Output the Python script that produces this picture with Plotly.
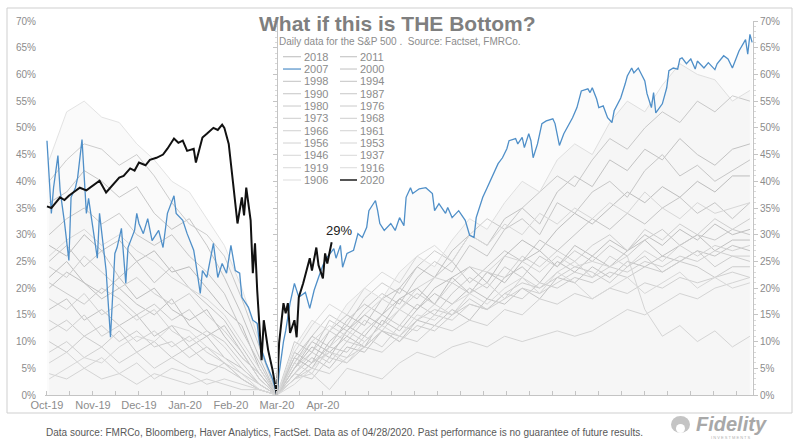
import plotly.graph_objects as go

# ---------------- data ----------------
# trading days relative to each bear-market bottom (day 0 = bottom)
GRAY_DAYS = list(range(-104, 217, 8))

r_2018 = [28,26,30,27,29,25,27,23,24,20,16,13,5,0, 5,9,7,12,15,13,18,20,17,22,24,21,26,29,27,31,34,32,35,38,36,39,37,40,38,41,41]
r_2011 = [22,25,21,19,22,18,20,16,14,16,11,7,4,0, 7,5,10,13,11,15,18,16,20,22,19,23,21,25,27,24,28,26,29,27,30,28,31,29,32,30,31]
r_2000 = [20,23,21,18,20,17,15,18,13,11,13,8,3,0, 5,10,8,11,9,14,12,16,19,17,20,18,22,24,21,25,23,26,24,27,29,26,28,30,27,29,29]
r_1998 = [36,38,42,40,37,39,34,31,33,28,22,15,7,0, 8,6,12,15,13,18,20,24,22,27,30,28,33,35,32,38,41,39,44,42,46,44,48,45,43,46,47]
r_1994 = [16,18,14,16,13,15,11,13,9,11,7,5,2,0, 4,7,5,9,8,12,10,14,13,16,14,18,17,20,18,22,21,24,22,25,24,26,25,27,26,28,27]
r_1990 = [25,28,24,27,22,25,21,24,20,17,14,9,4,0, 6,11,9,14,17,15,20,18,22,25,21,24,27,25,29,27,30,33,31,34,32,35,37,34,36,33,36]
r_1987 = [30,33,35,32,34,30,28,30,26,23,19,12,6,0, 10,8,14,12,16,19,17,22,25,23,28,26,31,33,30,36,34,38,40,37,42,45,41,43,40,42,44]
r_1980 = [40,44,47,46,43,45,41,36,32,30,26,18,9,0, 7,11,15,13,18,21,19,24,27,25,30,33,31,35,38,41,39,44,48,46,50,53,51,55,53,56,55]
r_1976 = [21,19,17,20,18,15,17,14,16,12,10,6,2,0, 3,6,9,8,12,15,13,17,15,19,22,20,24,22,26,24,27,25,28,26,29,31,28,30,29,31,30]
r_1973 = [10,8,11,9,12,8,10,7,9,6,5,3,1,0, 4,3,7,6,9,12,10,13,12,15,17,16,19,18,21,20,22,21,23,22,24,23,25,24,22,24,24]
r_1968 = [12,14,11,13,10,12,9,10,7,9,6,3,1,0, 5,8,6,10,9,12,11,14,16,15,18,16,19,21,20,22,24,23,21,24,26,23,25,27,24,26,25]
r_1966 = [24,22,26,23,20,22,19,17,19,15,12,8,3,0, 4,8,12,10,14,12,16,19,17,21,19,23,22,26,24,27,25,28,30,27,31,29,32,30,33,31,33]
r_1961 = [14,12,15,11,13,10,12,9,11,8,6,4,2,0, 3,6,8,7,11,9,13,12,15,14,17,16,18,20,19,21,23,22,24,23,25,24,26,25,27,26,26]
r_1956 = [8,10,7,9,6,8,5,7,5,4,6,3,1,0, 3,5,4,7,9,8,11,10,13,12,14,13,16,15,18,17,19,18,20,19,21,20,22,21,22,23,22]
r_1953 = [18,16,19,15,17,14,16,12,10,12,9,5,2,0, 6,4,9,12,10,13,16,14,17,15,19,21,18,22,20,23,25,22,26,24,27,25,28,26,28,27,28]
r_1946 = [4,3,5,3,4,2,4,3,2,3,2,1,1,0, 3,4,1,5,4,3,6,8,7,9,10,9,11,10,11,12,11,12,14,16,15,17,19,18,20,21,22]
r_1937 = [6,8,5,7,4,6,3,5,4,2,3,2,1,0, 6,10,13,11,15,18,16,20,22,21,24,23,26,25,23,26,24,25,24,26,16,11,13,10,12,9,11]
r_1919 = [26,29,31,28,30,27,25,22,20,18,15,10,5,0, 8,13,17,15,20,23,21,26,28,25,30,28,32,30,34,32,35,33,36,34,38,35,33,36,34,35,36]
r_1916 = [3,5,7,6,9,11,10,13,12,9,7,4,1,0, 2,5,8,6,10,13,11,15,14,17,19,17,20,22,19,23,21,18,20,22,19,21,23,20,22,20,21]
r_1906 = [44,53,55,52,51,47,44,40,38,33,28,20,10,0, 9,14,12,17,20,18,23,26,24,29,33,31,36,40,38,44,47,45,51,55,53,58,62,60,59,55,57]

days_2007 = [-105,-104,-103,-102,-100,-99,-97,-95,-94,-92,-91,-89,-87,-86,-84,-82,-81,-79,-78,-76,-74,-73,-71,-69,-68,-65,-64,-63,-61,-59,-57,-54,-52,-50,-47,-46,-43,-41,-38,-37,-35,-34,-32,-29,-27,-25,-23,-21,-19,-17,-16,-13,-11,-9,-8,-5,-2,0,
             1,3,4,6,8,10,13,15,17,19,21,23,26,27,29,30,32,35,37,39,41,42,45,46,47,49,52,54,56,58,59,61,62,65,68,71,72,74,77,78,80,83,86,88,90,91,94,96,99,101,103,105,106,109,110,112,113,115,116,117,119,121,123,126,127,129,131,135,137,139,142,143,144,146,147,149,151,153,154,157,159,160,162,163,165,167,168,169,171,172,173,176,178,179,181,183,184,185,187,189,191,192,195,197,200,201,204,206,208,211,213,214,215,216,217]
ret_2007 = [47.6,39.6,34.0,38.8,44.8,38.3,32.3,25.2,37.0,38.8,40.7,47.8,34.0,36.8,30.8,25.6,34.0,26.5,23.3,10.8,26.5,27.6,31.2,20.9,27.6,30.8,34.0,32.1,30.2,33.0,28.9,30.8,27.6,34.0,37.3,34.0,32.7,30.2,27.1,24.6,19.0,23.3,22.0,28.4,22.0,24.6,22.8,28.0,23.3,22.8,18.3,16.4,14.0,13.4,9.7,6.0,3.0,0.0,
            4.0,10.0,12.0,17.2,20.9,18.3,19.2,16.2,19.6,22.0,24.3,25.8,27.4,25.6,28.0,23.9,26.5,27.1,30.2,29.5,31.4,34.5,36.4,34.5,32.1,30.8,32.1,30.8,33.2,31.7,37.0,38.8,37.7,38.6,38.8,37.7,34.5,35.8,34.0,35.1,33.2,34.5,32.7,29.9,29.5,33.2,37.0,38.8,41.4,43.3,44.4,46.1,47.6,48.0,47.0,48.2,46.3,48.9,47.6,44.4,47.0,50.8,51.3,51.7,50.8,46.7,48.9,51.9,53.8,56.9,57.3,56.6,57.5,55.4,53.8,54.1,51.9,51.0,53.2,55.6,58.2,59.7,61.2,60.3,61.2,59.7,58.8,56.4,53.8,56.6,52.8,54.5,57.5,60.7,61.2,61.0,62.9,63.1,62.0,62.9,61.0,62.5,61.2,62.2,60.9,62.0,63.5,62.9,61.2,64.4,65.7,66.5,63.8,67.5,66.0]

days_2020 = [-105,-103,-102,-99,-97,-95,-93,-90,-87,-84,-81,-78,-75,-72,-70,-67,-65,-63,-60,-58,-55,-52,-50,-47,-45,-43,-41,-38,-37,-34,-32,-29,-27,-25,-24,-22,-20,-18,-16,-15,-14,-12,-11,-10,-9,-7,-6,-4,-2,0,
             1,3,4,5,6,8,9,10,12,14,15,16,18,19,21,22,23,25]
ret_2020 = [35.3,35.0,35.5,37.0,36.5,37.3,37.9,38.8,38.3,39.2,40.1,37.9,39.2,40.7,41.0,42.4,42.0,43.5,43.0,44.0,44.4,45.0,46.1,48.0,47.2,47.6,45.7,46.1,43.5,48.2,48.9,50.0,49.6,50.6,50.0,47.0,39.6,32.1,37.0,33.6,38.8,32.7,22.8,28.4,19.6,6.5,14.0,8.4,4.7,0.0,
            9.7,17.2,15.3,17.2,11.6,14.0,10.8,18.3,20.9,23.9,25.6,23.3,27.6,24.3,21.8,26.5,24.6,28.6]

# legend order (row-major, two columns)
YEARS = ["2018","2011","2007","2000","1998","1994","1990","1987","1980","1976","1973",
         "1968","1966","1961","1956","1953","1946","1937","1919","1916","1906","2020"]

GRAY_SERIES = {"2018": r_2018, "2011": r_2011, "2000": r_2000, "1998": r_1998, "1994": r_1994,
               "1990": r_1990, "1987": r_1987, "1980": r_1980, "1976": r_1976, "1973": r_1973,
               "1968": r_1968, "1966": r_1966, "1961": r_1961, "1956": r_1956, "1953": r_1953,
               "1946": r_1946, "1937": r_1937, "1919": r_1919, "1916": r_1916, "1906": r_1906}

X_TICK_LABELS = ["Oct-19", "Nov-19", "Dec-19", "Jan-20", "Feb-20", "Mar-20", "Apr-20"]

# ---------------- styling ----------------
FONT = "Liberation Sans, Arial, sans-serif"
BLUE = "#4f8fc8"
BLACK = "#111111"
X0, X1 = -105.9, 217.4
L, R, T, B = 45, 47, 21, 53
W, H = 800, 448
PW, PH = W - L - R, H - T - B

def px(xp):
    return (xp - L) / PW

def py(yp):
    return (H - B - yp) / PH

gray_shades = ["#c6c6c6", "#c8c8c8", "#cacaca", "#cccccc", "#cdcdcd", "#cfcfcf", "#d0d0d0",
               "#d2d2d2", "#d3d3d3", "#d5d5d5", "#d6d6d6", "#d8d8d8", "#d9d9d9", "#dadada",
               "#dcdcdc", "#dddddd", "#dedede", "#e0e0e0", "#e1e1e1", "#e3e3e3"]

def color_for(year):
    if year == "2007":
        return BLUE
    if year == "2020":
        return BLACK
    g = [y for y in YEARS if y in GRAY_SERIES]
    return gray_shades[g.index(year)]

fig = go.Figure()

for year in YEARS:
    if year not in GRAY_SERIES:
        continue
    extra = {}
    if year == "1906":
        extra = dict(fill="tozeroy", fillcolor="rgba(0,0,0,0.018)")
    fig.add_trace(go.Scatter(x=GRAY_DAYS, y=GRAY_SERIES[year], mode="lines",
                             line=dict(color=color_for(year), width=1),
                             hoverinfo="skip", showlegend=False, **extra))

fig.add_trace(go.Scatter(x=days_2007, y=ret_2007, mode="lines",
                         line=dict(color=BLUE, width=1.3),
                         fill="tozeroy", fillcolor="rgba(0,0,0,0.015)",
                         name="2007", showlegend=False))
fig.add_trace(go.Scatter(x=days_2020, y=ret_2020, mode="lines",
                         line=dict(color=BLACK, width=2),
                         name="2020", showlegend=False))

# dummy traces so the extra axes are drawn
fig.add_trace(go.Scatter(x=[None], y=[None], yaxis="y2", showlegend=False, hoverinfo="skip"))
fig.add_trace(go.Scatter(x=[None], y=[None], yaxis="y3", showlegend=False, hoverinfo="skip"))

# x ticks
tickvals = [-105 + 10.5 * i for i in range(31)]
ticktext = []
for i in range(31):
    if i % 2 == 0 and i // 2 < len(X_TICK_LABELS):
        ticktext.append(X_TICK_LABELS[i // 2])
    else:
        ticktext.append("")

yvals = list(range(0, 71, 5))
ytext = [f"{v}%" for v in yvals]
axis_col = "#c4c4c4"
lab_col = "#8c8c8c"

fig.update_layout(
    width=W, height=H,
    margin=dict(l=L, r=R, t=T, b=B),
    paper_bgcolor="white", plot_bgcolor="white",
    font=dict(family=FONT, color=lab_col),
    showlegend=False,
    xaxis=dict(range=[X0, X1], tickmode="array", tickvals=tickvals, ticktext=ticktext,
               showgrid=False, zeroline=False, showline=True, linecolor=axis_col,
               ticks="inside", ticklen=4, tickcolor=axis_col,
               tickfont=dict(size=11, color=lab_col)),
    yaxis=dict(range=[0, 70], tickmode="array", tickvals=yvals, ticktext=ytext,
               showgrid=False, zeroline=False, showline=False, ticks="",
               ticklabelstandoff=8, tickfont=dict(size=10, color=lab_col)),
    yaxis2=dict(range=[0, 70], overlaying="y", anchor="free",
                position=(0 - X0) / (X1 - X0), showticklabels=False,
                showgrid=False, zeroline=False, showline=True, linecolor=axis_col,
                ticks="outside", ticklen=4, tickcolor=axis_col, dtick=5,
                minor=dict(ticks="outside", ticklen=2, dtick=1, tickcolor="#d8d8d8")),
    yaxis3=dict(range=[0, 70], overlaying="y", side="right", anchor="x",
                tickmode="array", tickvals=yvals, ticktext=ytext,
                showgrid=False, zeroline=False, showline=True, linecolor=axis_col,
                ticks="outside", ticklen=4, tickcolor=axis_col,
                minor=dict(ticks="outside", ticklen=2, dtick=1, tickcolor="#d8d8d8"),
                tickfont=dict(size=10, color=lab_col)),
)

shapes = []
annotations = []

# outer frame
shapes.append(dict(type="rect", xref="paper", yref="paper",
                   x0=px(7), x1=px(792), y0=py(413), y1=py(8),
                   line=dict(color="#cfcfcf", width=1), layer="above"))

# title & subtitle
annotations.append(dict(text="<b>What if this is THE Bottom?</b>", xref="paper", yref="paper",
                        x=px(397), y=py(23), xanchor="center", yanchor="middle",
                        showarrow=False, font=dict(size=21, color="#7f7f7f", family=FONT)))
annotations.append(dict(text="Daily data for the S&P 500 .  Source: Factset, FMRCo.",
                        xref="paper", yref="paper", x=px(277), y=py(41),
                        xanchor="left", yanchor="middle", showarrow=False,
                        font=dict(size=10, color="#8c8c8c", family=FONT)))

# manual two-column legend
for i, year in enumerate(YEARS):
    row, col = i // 2, i % 2
    yp = 56.7 + 12.33 * row
    lx0, lx1, tx = (283, 301, 302) if col == 0 else (340, 357, 358)
    c = color_for(year)
    wdt = 2 if year == "2020" else 1.2
    if year == "2020":
        c = "#555555"
    shapes.append(dict(type="line", xref="paper", yref="paper",
                       x0=px(lx0), x1=px(lx1), y0=py(yp), y1=py(yp),
                       line=dict(color=c, width=wdt)))
    annotations.append(dict(text=year, xref="paper", yref="paper", x=px(tx), y=py(yp),
                            xanchor="left", yanchor="middle", showarrow=False,
                            font=dict(size=11, color="#8c8c8c", family=FONT)))

# last-value label
annotations.append(dict(text=f"{round(ret_2020[-1])}%", x=days_2020[-1], y=ret_2020[-1],
                        xref="x", yref="y", xanchor="center", yanchor="bottom",
                        xshift=7, yshift=2, showarrow=False,
                        font=dict(size=13, color="#222222", family=FONT)))

# footer
annotations.append(dict(text="Data source: FMRCo, Bloomberg, Haver Analytics, FactSet. Data as of 04/28/2020. Past performance is no guarantee of future results.",
                        xref="paper", yref="paper", x=px(44), y=py(432),
                        xanchor="left", yanchor="middle", showarrow=False,
                        font=dict(size=10, color="#595959", family=FONT)))

# Fidelity logo (text + simple mark)
shapes.append(dict(type="circle", xref="paper", yref="paper",
                   x0=px(671), x1=px(690), y0=py(433), y1=py(416),
                   fillcolor="#c4c4c4", line=dict(width=0)))
shapes.append(dict(type="circle", xref="paper", yref="paper",
                   x0=px(676), x1=px(685), y0=py(433), y1=py(424),
                   fillcolor="white", line=dict(width=0)))
annotations.append(dict(text="<b><i>Fidelity</i></b>", xref="paper", yref="paper",
                        x=px(731), y=py(424), xanchor="center", yanchor="middle",
                        showarrow=False, font=dict(size=20, color="#a8a8a8", family=FONT)))
annotations.append(dict(text="I N V E S T M E N T S", xref="paper", yref="paper",
                        x=px(731), y=py(437), xanchor="center", yanchor="middle",
                        showarrow=False, font=dict(size=4, color="#b0b0b0", family=FONT)))

fig.update_layout(shapes=shapes, annotations=annotations)

fig.write_html("out.html", config={"displayModeBar": False},
               post_script="document.body.style.margin='0';document.body.style.overflow='hidden';")
